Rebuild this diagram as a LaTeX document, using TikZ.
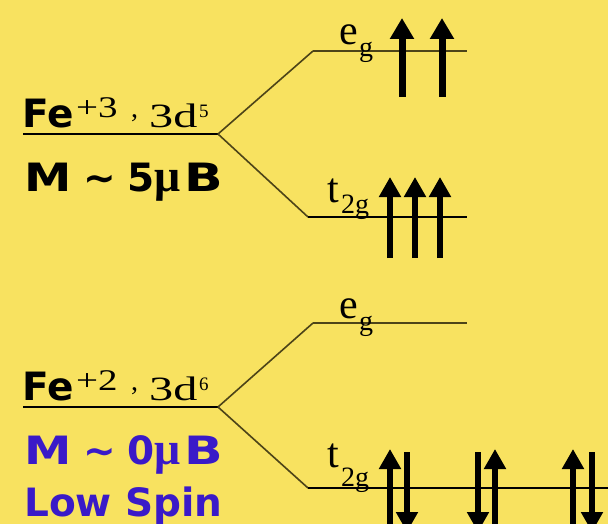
\documentclass[tikz,border=0pt]{standalone}
\usepackage{fontspec}
\setmainfont{Liberation Serif}
\setsansfont{DejaVu Sans}
\usetikzlibrary{arrows.meta}
\definecolor{bgyellow}{RGB}{248,226,96}
\definecolor{spinblue}{RGB}{58,26,200}
\definecolor{olive}{RGB}{77,68,24}
\newcommand{\bigsans}{\sffamily\bfseries\fontsize{39}{39}\selectfont}
\newcommand{\serifbig}{\rmfamily\fontsize{42}{42}\selectfont}
\newcommand{\serifmid}{\rmfamily\fontsize{34}{34}\selectfont}
\newcommand{\serifsup}{\rmfamily\fontsize{30}{30}\selectfont}
\newcommand{\serifsub}{\rmfamily\fontsize{28}{28}\selectfont}
\newcommand{\serifsmall}{\rmfamily\fontsize{19}{19}\selectfont}
\newcommand{\wide}[1]{\scalebox{1.22}[1]{#1}}
\newcommand{\muglyph}{{\rmfamily\fontsize{46}{46}\selectfont μ}}
\tikzset{
  txt/.style={inner sep=0pt, anchor=base west},
  ionlevel/.style={line width=2.2pt, black},
  split/.style={line width=1.6pt, olive},
  orbital/.style={line width=1.8pt, olive},
  orbitalk/.style={line width=1.8pt, black},
  spin/.style={line width=7pt, black, -{Triangle[width=23pt,length=21pt]}},
  spinsm/.style={line width=6.5pt, black, -{Triangle[width=21pt,length=20pt]}},
}
\begin{document}
\begin{tikzpicture}[x=1pt,y=-1pt]
\useasboundingbox (0,0) rectangle (608,524);
\fill[bgyellow] (0,0) rectangle (608,524);
\clip (0,0) rectangle (608,524);

% ---------- top: Fe+3 ----------
\coordinate (a0) at (23,134);
\coordinate (a1) at (218,134);
\coordinate (aeL) at (313,51);
\coordinate (aeR) at (467,51);
\coordinate (atL) at (308,217);
\coordinate (atR) at (467,217);
\draw[ionlevel] (a0) -- (a1);
\draw[split] (a1) -- (aeL);
\draw[split] (a1) -- (atL);
\draw[orbital] (aeL) -- (aeR);
\draw[orbitalk] (atL) -- (atR);

\node[txt] (feA) at (22,128) {\bigsans Fe};
\node[txt] (chA) at (76,118) {\serifsup\scalebox{1.3}[1]{+3}};
\node[txt] (cmA) at (131,118) {\serifsub ,};
\node[txt] (dA) at (149,128) {\serifmid\scalebox{1.42}[1]{3d}};
\node[txt] (sA) at (199,118) {\serifsmall 5};
\node[txt] (mA) at (24,192) {\bigsans\wide{M}\hspace{12pt}\textasciitilde\hspace{11pt}5\muglyph\hspace{4pt}\scalebox{1.3}[1]{B}};

\node[txt] (egA) at (339,45) {\serifbig e};
\node[txt] (egAs) at (359,57) {\serifsub g};
\node[txt] (tgA) at (327,203) {\serifbig t};
\node[txt] (tgAs) at (341,214) {\serifsub 2g};

\foreach \x [count=\i] in {402,442} {
  \coordinate (eu\i b) at (\x,97);
  \coordinate (eu\i t) at (\x,18);
  \draw[spin] (eu\i b) -- (eu\i t);
}
\foreach \x [count=\i] in {390,415,440} {
  \coordinate (tu\i b) at (\x,258);
  \coordinate (tu\i t) at (\x,177);
  \draw[spinsm] (tu\i b) -- (tu\i t);
}

% ---------- bottom: Fe+2 ----------
\coordinate (b0) at (23,407);
\coordinate (b1) at (218,407);
\coordinate (beL) at (313,323);
\coordinate (beR) at (467,323);
\coordinate (btL) at (308,488);
\coordinate (btR) at (608,488);
\draw[ionlevel] (b0) -- (b1);
\draw[split] (b1) -- (beL);
\draw[split] (b1) -- (btL);
\draw[orbital] (beL) -- (beR);
\draw[orbitalk] (btL) -- (btR);

\node[txt] (feB) at (22,400) {\bigsans Fe};
\node[txt] (chB) at (76,390) {\serifsup\scalebox{1.3}[1]{+2}};
\node[txt] (cmB) at (131,390) {\serifsub ,};
\node[txt] (dB) at (149,400) {\serifmid\scalebox{1.42}[1]{3d}};
\node[txt] (sB) at (199,390) {\serifsmall 6};
\node[txt, text=spinblue] (mB) at (24,464) {\bigsans\wide{M}\hspace{12pt}\textasciitilde\hspace{11pt}0\muglyph\hspace{4pt}\scalebox{1.3}[1]{B}};
\node[txt, text=spinblue] (lsB) at (24,516) {\bigsans Low Spin};

\node[txt] (egB) at (339,318) {\serifbig e};
\node[txt] (egBs) at (359,330) {\serifsub g};
\node[txt] (tgB) at (327,467) {\serifbig t};
\node[txt] (tgBs) at (341,486) {\serifsub 2g};

\foreach \x [count=\i] in {390,495,573} {
  \coordinate (bu\i b) at (\x,540);
  \coordinate (bu\i t) at (\x,449);
  \draw[spinsm] (bu\i b) -- (bu\i t);
}
\foreach \x [count=\i] in {407,478,592} {
  \coordinate (bd\i t) at (\x,452);
  \coordinate (bd\i b) at (\x,532);
  \draw[spinsm] (bd\i t) -- (bd\i b);
}
\end{tikzpicture}
\end{document}
